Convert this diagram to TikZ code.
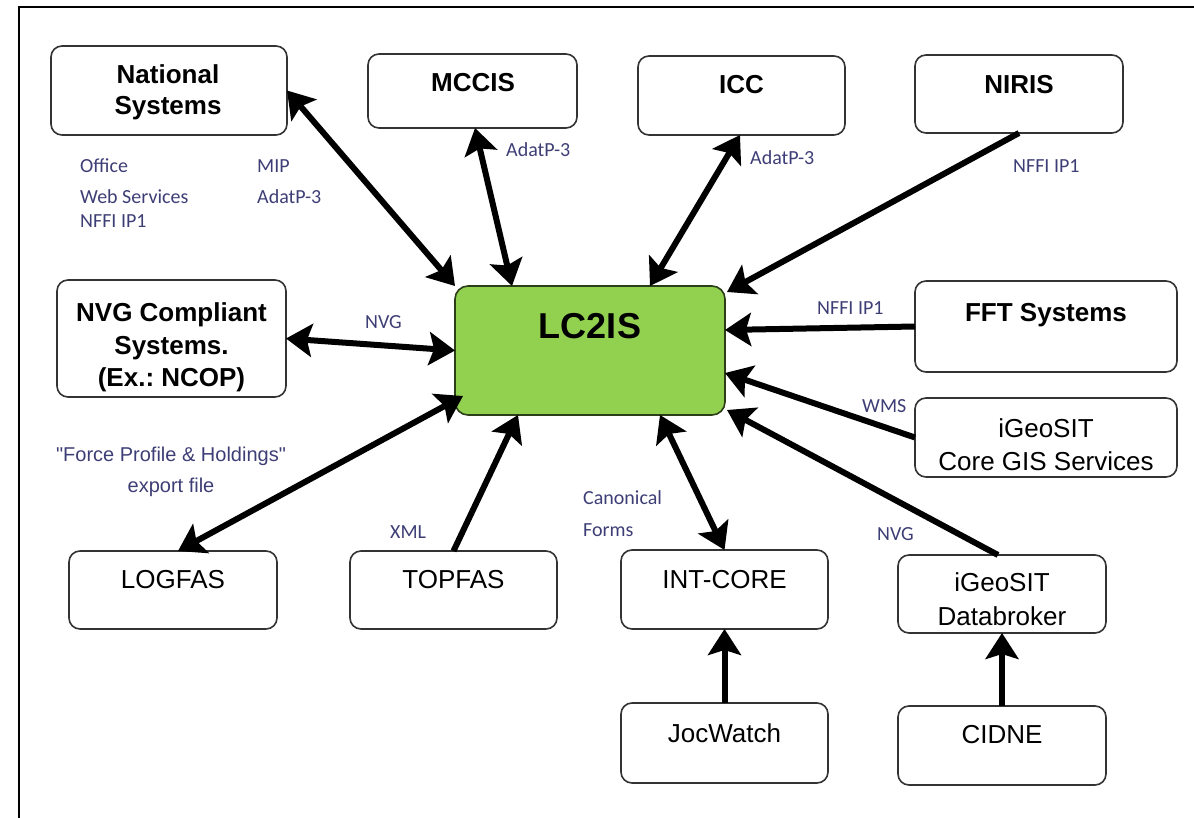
\documentclass[tikz,border=0pt]{standalone}
\usepackage{fontspec}
\setmainfont{Liberation Sans}
\newfontfamily\lblfont{Carlito}
\newfontfamily\quotefont{Liberation Sans}[Ligatures=TeXOff]
\usetikzlibrary{arrows.meta,calc}
\definecolor{lcgreen}{RGB}{146,208,80}
\definecolor{lblcol}{RGB}{62,62,118}
\frenchspacing
\begin{document}
\begin{tikzpicture}[x=1pt,y=-1pt,
  box/.style={rectangle, draw=black!80, line width=1.6pt, rounded corners=11pt, outer sep=0pt, inner sep=0pt, fill=white},
  bt/.style={font=\bfseries\fontsize{26}{30}\selectfont, anchor=base, inner sep=0pt},
  rt/.style={font=\fontsize{26}{30}\selectfont, anchor=base, inner sep=0pt},
  lbl/.style={font=\lblfont\fontsize{20}{24}\selectfont, text=lblcol, anchor=base west, inner sep=0pt},
  lblc/.style={font=\quotefont\fontsize{20}{24}\selectfont, text=lblcol, anchor=base, inner sep=0pt},
  tip/.tip={Stealth[length=26pt,width=33pt,inset=5pt]},
  arr/.style={line width=6pt, -tip},
  arrtwo/.style={line width=6pt, tip-tip},
]
\useasboundingbox (0,0) rectangle (1194,818);
% frame
\draw[line width=2.2pt] (1194,7) -- (19,7) -- (19,818);

% boxes
\node[box, minimum width=236pt, minimum height=89pt] (nat) at (169,90.5) {};
\node[box, minimum width=209pt, minimum height=74pt] (mccis) at (472.5,91) {};
\node[box, minimum width=207pt, minimum height=79pt] (icc) at (741.5,95.5) {};
\node[box, minimum width=208pt, minimum height=78pt] (niris) at (1019,94) {};
\node[box, minimum width=229pt, minimum height=117pt] (nvg) at (171.5,338.5) {};
\node[box, fill=lcgreen, draw=black!70!lcgreen, minimum width=270pt, minimum height=129pt, rounded corners=13pt] (lc) at (590,350.5) {};
\node[box, minimum width=262pt, minimum height=91pt] (fft) at (1046,326.5) {};
\node[box, minimum width=262pt, minimum height=79pt] (igeo) at (1046,437.5) {};
\node[box, minimum width=208pt, minimum height=78pt] (logfas) at (173,590) {};
\node[box, minimum width=207pt, minimum height=78pt] (topfas) at (453.5,590) {};
\node[box, minimum width=207pt, minimum height=79pt] (intcore) at (724.5,589.5) {};
\node[box, minimum width=208pt, minimum height=78pt] (db) at (1002,594) {};
\node[box, minimum width=207pt, minimum height=80pt] (joc) at (724.5,743) {};
\node[box, minimum width=208pt, minimum height=79pt] (cidne) at (1002,745.5) {};

% box texts
\node[bt] (nat-a) at (168,84) {National};
\node[bt] (nat-b) at (168,115) {Systems};
\node[bt] (mccis-t) at (473,92) {MCCIS};
\node[bt] (icc-t) at (741.5,94) {ICC};
\node[bt] (niris-t) at (1019,94) {NIRIS};
\node[bt] (nvg-a) at (171.5,321) {NVG Compliant};
\node[bt] (nvg-b) at (171.5,354) {Systems.};
\node[bt] (nvg-c) at (171.5,386) {(Ex.: NCOP)};
\node[bt, font=\bfseries\fontsize{36}{40}\selectfont] (lc-t) at (590,338) {LC2IS};
\node[bt] (fft-t) at (1046,321) {FFT Systems};
\node[rt] (igeo-a) at (1046,437) {iGeoSIT};
\node[rt] (igeo-b) at (1046,470) {Core GIS Services};
\node[rt] (logfas-t) at (173,588) {LOGFAS};
\node[rt] (topfas-t) at (453.5,588) {TOPFAS};
\node[rt] (intcore-t) at (724.5,588) {INT-CORE};
\node[rt] (db-a) at (1002,591) {iGeoSIT};
\node[rt] (db-b) at (1002,625) {Databroker};
\node[rt] (joc-t) at (724.5,742) {JocWatch};
\node[rt] (cidne-t) at (1002,743) {CIDNE};

% labels
\node[lbl] (l-office) at (80,173) {Office};
\node[lbl] (l-web) at (80,204) {Web Services};
\node[lbl] (l-nffi1) at (80,228) {NFFI IP1};
\node[lbl] (l-mip) at (257,173) {MIP};
\node[lbl] (l-adat1) at (257,204) {AdatP-3};
\node[lbl] (l-adat2) at (506,157) {AdatP-3};
\node[lbl] (l-adat3) at (750,165) {AdatP-3};
\node[lbl] (l-nffi2) at (1013,173) {NFFI IP1};
\node[lbl] (l-nvg1) at (365,328) {NVG};
\node[lbl] (l-nffi3) at (817,315) {NFFI IP1};
\node[lbl] (l-wms) at (862,412) {WMS};
\node[lblc] (l-force) at (171,461) {"Force Profile \& Holdings"};
\node[lblc] (l-export) at (171,492) {export file};
\node[lbl] (l-xml) at (390,538) {XML};
\node[lbl] (l-canon) at (583,504) {Canonical};
\node[lbl] (l-forms) at (583,536) {Forms};
\node[lbl] (l-nvg2) at (877,540) {NVG};

% connectors
\draw[arrtwo] (nat.east) -- (lc.north west);
\draw[arrtwo] ($(mccis.south)+(2.5,0)$) -- ($(lc.north west)+(57,0)$);
\draw[arrtwo] ($(icc.south)+(-1.5,0)$) -- ($(lc.north west)+(195,0)$);
\draw[arr] (niris.south) -- ($(lc.north east)+(2,6)$);
\draw[arr] (fft.west) -- ($(lc.north east)+(0,44)$);
\draw[arr] (igeo.west) -- ($(lc.north east)+(0,87)$);
\draw[arr] ($(db.north)+(-4,0)$) -- ($(lc.south east)+(2,-5)$);
\draw[arrtwo] (intcore.north) -- ($(lc.south west)+(205,0)$);
\draw[arr] (topfas.north) -- ($(lc.south west)+(63,0)$);
\draw[arrtwo] ($(logfas.north)+(5,0)$) -- ($(lc.south west)+(8,-19)$);
\draw[arrtwo] (nvg.east) -- (lc.west);
\draw[arr] (joc.north) -- (intcore.south);
\draw[arr] (cidne.north) -- (db.south);
\end{tikzpicture}
\end{document}
